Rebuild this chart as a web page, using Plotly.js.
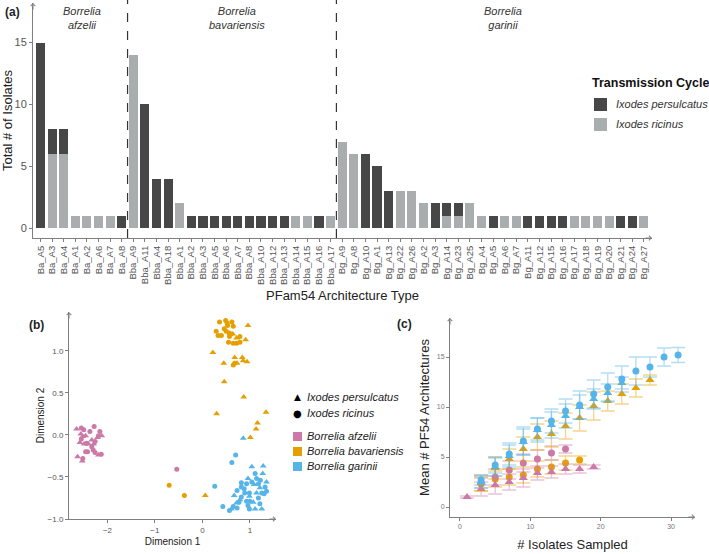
<!DOCTYPE html>
<html>
<head>
<meta charset="utf-8">
<script src="https://cdn.plot.ly/plotly-3.0.1.min.js"></script>
<style>html,body{margin:0;padding:0;background:#fff;}#chart{width:709px;height:554px;}</style>
</head>
<body>
<div id="chart"></div>
<script>
// ---------- Panel (a): PFam54 architecture counts ----------
const categories = [
  'Ba_A5','Ba_A3','Ba_A4','Ba_A1','Ba_A2','Ba_A6','Ba_A7','Ba_A8',
  'Bba_A9','Bba_A11','Bba_A4','Bba_A18','Bba_A1','Bba_A2','Bba_A3','Bba_A5','Bba_A6','Bba_A7','Bba_A8','Bba_A10','Bba_A12','Bba_A13','Bba_A14','Bba_A15','Bba_A16','Bba_A17',
  'Bg_A9','Bg_A8','Bg_A10','Bg_A1','Bg_A13','Bg_A22','Bg_A26','Bg_A2','Bg_A3','Bg_A14','Bg_A23','Bg_A25','Bg_A4','Bg_A5','Bg_A6','Bg_A7','Bg_A11','Bg_A12','Bg_A15','Bg_A16','Bg_A17','Bg_A18','Bg_A19','Bg_A20','Bg_A21','Bg_A24','Bg_A27'
];
const ricinusCounts = [
  0,6,6,1,1,1,1,0,
  14,0,0,0,2,0,0,0,0,0,0,0,0,0,1,1,0,1,
  7,6,0,0,0,3,3,2,0,1,1,2,1,0,1,1,0,0,0,0,1,1,1,1,0,0,1
];
const persulcatusCounts = [
  15,2,2,0,0,0,0,1,
  0,10,4,4,0,1,1,1,1,1,1,1,1,1,0,0,1,0,
  0,0,6,5,3,0,0,0,2,1,1,0,0,1,0,0,1,1,1,1,0,0,0,0,1,1,0
];
const groupLabels = ['Borrelia<br>afzelii','Borrelia<br>bavariensis','Borrelia<br>garinii'];
const groupBreaks = [7.5, 25.5];

// ---------- Panel (b): MDS ordination ----------
const afzTriX = [-2.65,-2.56,-2.52,-2.40,-2.49,-2.58,-2.19,-2.63,-2.53,-2.33,-2.21,-2.46,-2.12,-2.29];
const afzTriY = [0.07,0.01,-0.02,-0.11,-0.11,-0.09,-0.24,-0.26,-0.31,-0.06,-0.03,-0.01,-0.01,-0.11];
const afzCircX = [-2.55,-2.50,-2.28,-2.16,-2.19,-2.55,-2.26,-2.46,-2.42,-2.30,-2.26,-2.13,-2.52,-2.33,-2.44,-2.37,-0.54];
const afzCircY = [0.08,0.06,0.10,0.04,-0.01,-0.05,-0.08,-0.20,-0.20,-0.18,-0.21,-0.23,-0.28,-0.14,-0.10,0.04,-0.41];
const bavTriX = [0.72,0.96,0.91,0.22,0.45,0.68,0.73,0.84,0.86,0.94,0.46,0.87,0.30,1.34,1.16,1.13,1.01,0.06,0.64];
const bavTriY = [1.15,1.30,1.13,0.98,0.85,0.92,0.85,0.92,0.88,0.87,0.63,0.45,0.25,0.27,0.14,0.07,-0.03,-0.72,1.20];
const bavCircX = [0.36,0.49,0.52,0.62,0.65,0.29,0.33,0.40,0.50,0.56,0.57,0.61,0.79,0.55,0.65,0.72,0.79,0.65,0.68,-0.70,-0.38,0.46,0.53];
const bavCircY = [1.34,1.36,1.33,1.34,1.29,1.23,1.18,1.18,1.23,1.21,1.17,1.20,1.17,1.10,1.09,1.09,1.10,0.83,0.85,-0.60,-0.72,1.26,1.30];
const garTriX = [0.86,1.28,1.04,0.96,1.35,1.21,1.14,0.67,0.99,0.79,0.72,1.07,0.61,1.11,1.25,1.27,1.09];
const garTriY = [-0.04,-0.37,-0.38,-0.52,-0.56,-0.63,-0.69,-0.72,-0.73,-0.77,-0.81,-0.80,-0.88,-0.88,-0.88,-0.46,-0.59];
const garCircX = [0.70,0.62,0.26,0.43,1.11,1.14,0.82,0.93,1.04,1.18,1.32,0.82,0.73,0.89,0.99,1.25,1.30,1.18,0.93,1.00,0.77,1.21,0.65,0.73,0.99,0.96,0.57,0.82,1.35,1.22,0.88];
const garCircY = [-0.24,-0.33,-0.61,-0.85,-0.46,-0.52,-0.57,-0.58,-0.56,-0.58,-0.62,-0.62,-0.66,-0.69,-0.69,-0.69,-0.70,-0.75,-0.79,-0.79,-0.80,-0.82,-0.85,-0.87,-0.88,-0.84,-0.90,-0.74,-0.67,-0.54,-0.64];

// ---------- Panel (c): rarefaction ----------
const afzTriN = [1,3,5,7,9,11,13,15,17,19];
const afzTriMean = [1.0,1.8,2.2,2.5,2.9,3.4,3.5,3.8,3.8,4.0];
const afzTriErr = [0.1,0.7,0.9,0.8,0.9,0.7,0.6,0.5,0.4,0.2];
const afzCircN = [3,5,7,9,11,13,15];
const afzCircMean = [2.4,3.0,3.7,4.4,4.8,5.4,5.8];
const afzCircErr = [0.5,0.8,0.9,0.9,0.9,0.7,0.4];
const bavCircN = [3,5,7,9,11,13,15,17];
const bavCircMean = [2.3,2.8,3.0,3.2,3.8,4.0,4.4,4.7];
const bavCircErr = [0.7,0.8,0.8,0.8,0.8,0.7,0.7,0.4];
const bavTriN = [3,5,7,9,11,13,15,17,19,21,23,25,27];
const bavTriMean = [2.4,3.9,4.8,5.8,7.0,7.3,8.1,8.9,10.1,10.6,11.3,11.9,12.7];
const bavTriErr = [0.8,1.1,1.0,1.2,1.3,1.3,1.3,1.3,1.4,1.0,1.0,0.9,0.5];
const garTriN = [3,5,7,9,11,13,15,17,19,21,23];
const garTriMean = [2.5,4.0,5.1,6.5,7.7,8.2,9.1,10.0,10.8,11.4,12.4];
const garTriErr = [0.6,0.9,1.1,1.3,1.2,1.3,1.2,1.2,1.0,0.9,0.6];
const garCircN = [3,5,7,9,11,13,15,17,19,21,23,25,27,29,31];
const garCircMean = [2.7,4.2,5.3,6.6,7.8,8.6,9.6,10.2,11.3,12.0,12.8,13.6,14.0,15.0,15.2];
const garCircErr = [0.5,0.8,1.1,1.4,1.1,1.2,1.2,1.4,1.4,1.4,1.3,1.4,1.0,0.9,0.75];

// ---------- styling ----------
const FONT = 'Liberation Sans, Arial, sans-serif';
const DARK = '#474747', LIGHT = '#a9adae';
const PINK = '#cc79a7', ORANGE = '#e69f00', BLUE = '#56b4e9';
const PINK_A = 'rgba(204,121,167,0.45)', ORANGE_A = 'rgba(230,159,0,0.45)', BLUE_A = 'rgba(86,180,233,0.45)';
const AX = '#7f7f7f', TXT = '#555555';
const W = 709, H = 554;
const px = v => v / W, py = v => 1 - v / H;

const traces = [];
traces.push({type:'bar', x:categories, y:ricinusCounts, name:'Ixodes ricinus', marker:{color:LIGHT}, xaxis:'x', yaxis:'y', showlegend:false});
traces.push({type:'bar', x:categories, y:persulcatusCounts, name:'Ixodes persulcatus', marker:{color:DARK}, xaxis:'x', yaxis:'y', showlegend:false});

function sc(x, y, color, sym, size) {
  return {type:'scatter', mode:'markers', x:x, y:y, xaxis:'x2', yaxis:'y2', showlegend:false,
    marker:{color:color, symbol:sym, size:size, line:{width:0}}};
}
traces.push(sc(afzCircX, afzCircY, PINK, 'circle', 5));
traces.push(sc(afzTriX, afzTriY, PINK, 'triangle-up', 6));
traces.push(sc(bavCircX, bavCircY, ORANGE, 'circle', 5));
traces.push(sc(bavTriX, bavTriY, ORANGE, 'triangle-up', 6));
traces.push(sc(garCircX, garCircY, BLUE, 'circle', 5));
traces.push(sc(garTriX, garTriY, BLUE, 'triangle-up', 6));

function rc(x, y, err, color, ecolor, sym, size) {
  return {type:'scatter', mode:'markers', x:x, y:y, xaxis:'x3', yaxis:'y3', showlegend:false,
    marker:{color:color, symbol:sym, size:size, line:{width:0}},
    error_y:{type:'data', array:err, visible:true, color:ecolor, thickness:1.3, width:7}};
}
traces.push(rc(bavCircN, bavCircMean, bavCircErr, ORANGE, ORANGE_A, 'circle', 7));
traces.push(rc(afzCircN, afzCircMean, afzCircErr, PINK, PINK_A, 'circle', 7));
traces.push(rc(afzTriN, afzTriMean, afzTriErr, PINK, PINK_A, 'triangle-up', 8));
traces.push(rc(bavTriN, bavTriMean, bavTriErr, ORANGE, ORANGE_A, 'triangle-up', 8));
traces.push(rc(garTriN, garTriMean, garTriErr, BLUE, BLUE_A, 'triangle-up', 8));
traces.push(rc(garCircN, garCircMean, garCircErr, BLUE, BLUE_A, 'circle', 7));

const baseAxis = {showgrid:false, zeroline:false, showline:true, linecolor:AX, linewidth:1,
  ticks:'outside', ticklen:3, tickcolor:AX, tickwidth:1};

const annotations = [];
function label(text, x, y, opts) {
  annotations.push(Object.assign({text:text, xref:'paper', yref:'paper', x:px(x), y:py(y), showarrow:false,
    font:{family:FONT, size:11, color:'#222'}, xanchor:'center', yanchor:'middle'}, opts || {}));
}
function arrow(x, y, ax, ay) {
  annotations.push({text:'', xref:'paper', yref:'paper', x:px(x), y:py(y), ax:ax, ay:ay, showarrow:true,
    arrowhead:4, arrowsize:0.9, arrowwidth:1, arrowcolor:AX, standoff:0});
}
// panel letters
label('<b>(a)</b>', 3, 12, {xanchor:'left', font:{family:FONT, size:12, color:'#222'}});
label('<b>(b)</b>', 27, 325, {xanchor:'left', font:{family:FONT, size:12, color:'#222'}});
label('<b>(c)</b>', 395, 324, {xanchor:'left', font:{family:FONT, size:12, color:'#222'}});
// group labels
const groupX = [82, 237, 503];
groupLabels.forEach((g, i) => label('<i>' + g + '</i>', groupX[i], 18, {font:{family:FONT, size:11, color:'#333'}}));
// legend (a)
label('<b>Transmission Cycle</b>', 590, 83, {xanchor:'left', font:{family:FONT, size:12.5, color:'#111'}});
label('<i>Ixodes persulcatus</i>', 614, 104, {xanchor:'left', font:{family:FONT, size:11, color:'#333'}});
label('<i>Ixodes ricinus</i>', 614, 124, {xanchor:'left', font:{family:FONT, size:11, color:'#333'}});
// legend (b)
label('▲', 297, 397, {font:{family:'DejaVu Sans', size:9, color:'#000'}});
label('●', 297, 413, {font:{family:'DejaVu Sans', size:10, color:'#000'}});
label('<i>Ixodes persulcatus</i>', 305, 397, {xanchor:'left', font:{family:FONT, size:11, color:'#222'}});
label('<i>Ixodes ricinus</i>', 305, 413, {xanchor:'left', font:{family:FONT, size:11, color:'#222'}});
label('<i>Borrelia afzelii</i>', 305, 436, {xanchor:'left', font:{family:FONT, size:11, color:'#222'}});
label('<i>Borrelia bavariensis</i>', 305, 451, {xanchor:'left', font:{family:FONT, size:11, color:'#222'}});
label('<i>Borrelia garinii</i>', 305, 466, {xanchor:'left', font:{family:FONT, size:11, color:'#222'}});
// axis arrows
arrow(652, 238, -8, 0); arrow(33, 3, 0, 8);
arrow(276, 519, -8, 0); arrow(69, 312, 0, 8);
arrow(695, 517, -8, 0); arrow(450, 318, 0, 8);

const shapes = [];
groupBreaks.forEach(b => shapes.push({type:'line', xref:'x', yref:'paper', x0:b, x1:b, y0:py(238), y1:1,
  line:{color:'#333', width:1.2, dash:'dash'}}));
function rect(x0, y0, x1, y1, c) {
  shapes.push({type:'rect', xref:'paper', yref:'paper', x0:px(x0), x1:px(x1), y0:py(y1), y1:py(y0), fillcolor:c, line:{width:0}});
}
rect(594, 98, 607, 111, DARK);
rect(594, 118, 607, 131, LIGHT);
rect(293, 432, 302, 441, PINK);
rect(293, 447, 302, 456, ORANGE);
rect(293, 462, 302, 471, BLUE);

const layout = {
  width:W, height:H, margin:{l:0, r:0, t:0, b:0}, paper_bgcolor:'#fff', plot_bgcolor:'#fff',
  font:{family:FONT, color:TXT}, barmode:'stack', bargap:0.22, showlegend:false,
  xaxis:Object.assign({}, baseAxis, {domain:[px(33), px(652)], anchor:'y', type:'category', range:[-0.65, 52.7],
    tickangle:-90, tickfont:{size:9.5, color:TXT},
    title:{text:'PFam54 Architecture Type', font:{size:13, color:'#222'}, standoff:7}}),
  yaxis:Object.assign({}, baseAxis, {domain:[py(238), py(3)], anchor:'x', range:[-0.8, 18.2], tickvals:[0,5,10,15],
    tickfont:{size:11, color:TXT}, title:{text:'Total # of Isolates', font:{size:13, color:'#222'}, standoff:2}}),
  xaxis2:Object.assign({}, baseAxis, {domain:[px(69), px(276)], anchor:'y2', range:[-2.81, 1.55], tickvals:[-2,-1,0,1],
    tickfont:{size:8, color:TXT}, title:{text:'Dimension 1', font:{size:10, color:'#222'}, standoff:4}}),
  yaxis2:Object.assign({}, baseAxis, {domain:[py(519), py(312)], anchor:'x2', range:[-1.0, 1.46], tickvals:[-1,-0.5,0,0.5,1],
    tickformat:'.1f', tickfont:{size:8, color:TXT}, title:{text:'Dimension 2', font:{size:10, color:'#222'}, standoff:1}}),
  xaxis3:Object.assign({}, baseAxis, {domain:[px(450), px(695)], anchor:'y3', range:[-1.42, 33.4], tickvals:[0,10,20,30],
    tickfont:{size:7, color:'#777'}, title:{text:'# Isolates Sampled', font:{size:13, color:'#222'}, standoff:10}}),
  yaxis3:Object.assign({}, baseAxis, {domain:[py(517), py(318)], anchor:'x3', range:[-1.0, 18.9], tickvals:[0,5,10,15],
    tickfont:{size:7, color:'#777'}, title:{text:'Mean # PF54 Architectures', font:{size:13, color:'#222'}, standoff:4}}),
  annotations:annotations, shapes:shapes
};

Plotly.newPlot('chart', traces, layout, {staticPlot:true, displayModeBar:false});
</script>
</body>
</html>
